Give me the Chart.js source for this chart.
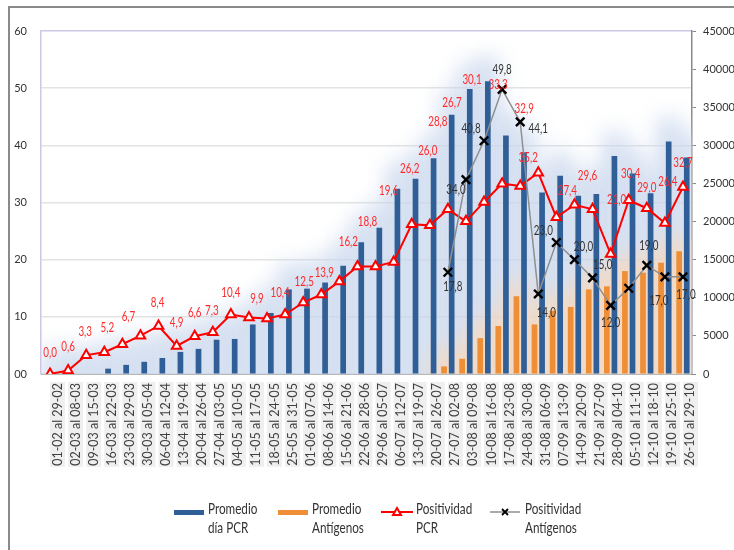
<!DOCTYPE html>
<html>
<head>
<meta charset="utf-8">
<script src="https://cdn.jsdelivr.net/npm/chart.js@4.4.1/dist/chart.umd.min.js"></script>
<style>
  html, body { margin: 0; padding: 0; background: #fff; }
  #wrap { position: relative; width: 734px; height: 550px; }
</style>
</head>
<body>
<div id="wrap"><canvas id="myChart" width="734" height="550"></canvas></div>
<script>
const weeks = [
  "01-02 al 29-02", "02-03 al 08-03", "09-03 al 15-03", "16-03 al 22-03",
  "23-03 al 29-03", "30-03 al 05-04", "06-04 al 12-04", "13-04 al 19-04",
  "20-04 al 26-04", "27-04 al 03-05", "04-05 al 10-05", "11-05 al 17-05",
  "18-05 al 24-05", "25-05 al 31-05", "01-06 al 07-06", "08-06 al 14-06",
  "15-06 al 21-06", "22-06 al 28-06", "29-06 al 05-07", "06-07 al 12-07",
  "13-07 al 19-07", "20-07 al 26-07", "27-07 al 02-08", "03-08 al 09-08",
  "10-08 al 16-08", "17-08 al 23-08", "24-08 al 30-08", "31-08 al 06-09",
  "07-09 al 13-09", "14-09 al 20-09", "21-09 al 27-09", "28-09 al 04-10",
  "05-10 al 11-10", "12-10 al 18-10", "19-10 al 25-10", "26-10 al 29-10"
];

// promedio diario de tests (eje derecho)
const promedioPCR = [
  0, 0, 0, 700, 1200, 1600, 2100, 2900, 3300, 4500, 4600, 6500,
  8000, 11100, 11200, 12000, 14200, 17300, 19200, 24300, 25600, 28300, 34000, 37400,
  38400, 31300, 29100, 23800, 26000, 23400, 23600, 28600, 26300, 23700, 30500, 28400
];
const promedioAntigenos = [
  null, null, null, null, null, null, null, null, null, null, null, null,
  null, null, null, null, null, null, null, null, null, null, 1000, 2000,
  4700, 6300, 10200, 6500, 8300, 8800, 11100, 11500, 13500, 13300, 14600, 16100
];

// positividad % (eje izquierdo)
const positividadPCR = [
  0.0, 0.6, 3.3, 3.8, 5.2, 6.7, 8.4, 4.9, 6.6, 7.3, 10.4, 9.9,
  9.7, 10.4, 12.5, 13.9, 16.2, 18.8, 18.8, 19.6, 26.2, 26.0, 28.8, 26.7,
  30.1, 33.3, 32.9, 35.2, 27.4, 29.6, 28.8, 21.0, 30.4, 29.0, 26.4, 32.7
];
const positividadAntigenos = [
  null, null, null, null, null, null, null, null, null, null, null, null,
  null, null, null, null, null, null, null, null, null, null, 17.8, 34.0,
  40.8, 49.8, 44.1, 14.0, 23.0, 20.0, 16.8, 12.0, 15.0, 19.0, 17.0, 17.0
];

const leftTicks = [0, 10, 20, 30, 40, 50, 60];
const rightTicks = [0, 5000, 10000, 15000, 20000, 25000, 30000, 35000, 40000, 45000];

const BLUE = "#2f5f96";
const ORANGE = "#ee8e37";
const RED = "#ff0000";
const GREY = "#8f8f8f";

// where each data label sits relative to its point (as moved by hand in the original)
const redNudge = [
  [0,-22],[0,-24],[-1,-24],null,[-15,-17],[-12,-19],[-1,-23],[0,-24],[0,-24],[-1,-22],[0,-22],[8,-19],
  null,[-5,-22],[1,-21],[3,-22],[9,-40],[10,-45],null,[-5,-71],[-2,-56],[-2,-75],[-10,-88],[-14,-119],
  [-12,-122],[-4,-99],[4,-77],[-10,-15],[11,-27],[13,-29],null,[6,-54],[2,-27],[0,-21],[3,-42],[0,-25]
];
const greyNudge = {
  22: [5,14], 23: [-10,10], 24: [-13,-12], 25: [0,-20], 26: [18,7], 27: [8,19],
  28: [-13,-12], 29: [9,-13], 31: [0,17], 32: [-26,-24], 33: [2,-20], 34: [-6,24], 35: [3,18]
};

function narrowText(ctx, text, x, y, color, font, sx) {
  ctx.save();
  ctx.translate(x, y);
  ctx.scale(sx, 1);
  ctx.font = font;
  ctx.fillStyle = color;
  ctx.textAlign = "left";
  ctx.textBaseline = "middle";
  ctx.fillText(text, 0, 0);
  ctx.restore();
}
function centerText(ctx, text, x, y, color, font, sx) {
  ctx.save();
  ctx.font = font;
  const w = ctx.measureText(text).width * sx;
  ctx.restore();
  narrowText(ctx, text, x - w / 2, y, color, font, sx);
}

const frame = {
  id: "frame",
  beforeDraw(chart) {
    const ctx = chart.ctx;
    ctx.save();
    ctx.strokeStyle = "#8a8a8a";
    ctx.lineWidth = 2;
    ctx.strokeRect(9, 7, 900, 700);
    ctx.restore();
  }
};

const glow = {
  id: "glow",
  beforeDatasetsDraw(chart) {
    const ctx = chart.ctx;
    const a = chart.chartArea;
    const base = chart.scales.y2.getPixelForValue(0);
    ctx.save();
    ctx.beginPath();
    ctx.rect(a.left, a.top, a.right - a.left, a.bottom - a.top);
    ctx.clip();
    [[0, "rgba(200,214,236,0.85)", 24], [1, "rgba(250,216,186,0.9)", 14]].forEach(([di, col, lift]) => {
      ctx.filter = "blur(11px)";
      ctx.fillStyle = col;
      chart.getDatasetMeta(di).data.forEach((bar, i) => {
        if (chart.data.datasets[di].data[i] == null) return;
        ctx.fillRect(bar.x - 11, bar.y - lift, 22, base - bar.y + lift + 20);
      });
    });
    ctx.restore();
  }
};

const pointLabels = {
  id: "pointLabels",
  afterDatasetsDraw(chart) {
    const ctx = chart.ctx;
    const sets = [
      { ds: 2, nudge: (i) => redNudge[i], color: "#ff2a2a" },
      { ds: 3, nudge: (i) => greyNudge[i], color: "#333333" }
    ];
    sets.forEach(s => {
      const vals = chart.data.datasets[s.ds].data;
      chart.getDatasetMeta(s.ds).data.forEach((pt, i) => {
        const n = s.nudge(i);
        if (vals[i] == null || !n) return;
        const txt = vals[i].toFixed(1).replace(".", ",");
        centerText(ctx, txt, pt.x + n[0], pt.y + n[1], s.color, "14px Lato", 0.7);
      });
    });
  }
};

const legendBox = {
  id: "legendBox",
  afterDraw(chart) {
    const ctx = chart.ctx;
    const ds = chart.data.datasets;
    const y = 512;
    const font = "15px Lato";
    const items = [
      { x: 174, lines: ["Promedio", "día PCR"] },
      { x: 278, lines: ["Promedio", "Antígenos"] },
      { x: 381, lines: ["Positividad", "PCR"] },
      { x: 490, lines: ["Positividad", "Antígenos"] }
    ];
    ctx.save();
    ctx.fillStyle = ds[0].backgroundColor;
    ctx.fillRect(items[0].x, y - 2, 30, 5);
    ctx.fillStyle = ds[1].backgroundColor;
    ctx.fillRect(items[1].x, y - 2, 30, 5);

    ctx.strokeStyle = ds[2].borderColor;
    ctx.lineWidth = 2;
    ctx.beginPath();
    ctx.moveTo(items[2].x, y); ctx.lineTo(items[2].x + 32, y);
    ctx.stroke();
    const tx = items[2].x + 16;
    ctx.fillStyle = "#fff";
    ctx.beginPath();
    ctx.moveTo(tx, y - 4); ctx.lineTo(tx + 4, y + 3); ctx.lineTo(tx - 4, y + 3); ctx.closePath();
    ctx.fill(); ctx.stroke();

    ctx.strokeStyle = ds[3].borderColor;
    ctx.lineWidth = 1.5;
    ctx.beginPath();
    ctx.moveTo(items[3].x, y); ctx.lineTo(items[3].x + 30, y);
    ctx.stroke();
    const gx = items[3].x + 15;
    ctx.strokeStyle = "#000";
    ctx.lineWidth = 1.8;
    ctx.beginPath();
    ctx.moveTo(gx - 3, y - 3); ctx.lineTo(gx + 3, y + 3);
    ctx.moveTo(gx + 3, y - 3); ctx.lineTo(gx - 3, y + 3);
    ctx.stroke();
    ctx.restore();

    items.forEach((it, k) => {
      const textX = it.x + (k < 2 ? 34 : 35);
      narrowText(ctx, it.lines[0], textX, 509, "#333", font, 0.78);
      narrowText(ctx, it.lines[1], textX, 528, "#333", font, 0.78);
    });
  }
};

const config = {
  type: "bar",
  data: {
    labels: weeks,
    datasets: [
      {
        label: "Promedio día PCR",
        data: promedioPCR,
        backgroundColor: BLUE,
        yAxisID: "y2",
        order: 4,
        categoryPercentage: 0.84,
        barPercentage: 0.75
      },
      {
        label: "Promedio Antígenos",
        data: promedioAntigenos,
        backgroundColor: ORANGE,
        yAxisID: "y2",
        order: 3,
        categoryPercentage: 0.84,
        barPercentage: 0.75
      },
      {
        type: "line",
        label: "Positividad PCR",
        data: positividadPCR,
        yAxisID: "y",
        borderColor: RED,
        backgroundColor: "#ffffff",
        borderWidth: 2,
        pointStyle: "triangle",
        pointRadius: 5.5,
        pointBorderWidth: 2,
        pointBorderColor: RED,
        pointBackgroundColor: "#ffffff",
        tension: 0,
        order: 2
      },
      {
        type: "line",
        label: "Positividad Antígenos",
        data: positividadAntigenos,
        yAxisID: "y",
        borderColor: GREY,
        backgroundColor: "#ffffff",
        borderWidth: 1.5,
        pointStyle: "crossRot",
        pointRadius: 6,
        pointBorderWidth: 2.4,
        pointBorderColor: "#000000",
        tension: 0,
        order: 1
      }
    ]
  },
  options: {
    responsive: false,
    animation: false,
    layout: { padding: { left: 9, top: 31, right: 0, bottom: 0 } },
    plugins: {
      legend: { display: false },
      tooltip: { enabled: false }
    },
    scales: {
      x: {
        grid: { display: false, drawTicks: false },
        border: { display: true, color: "#b8b8b8" },
        ticks: {
          autoSkip: false,
          minRotation: 90,
          maxRotation: 90,
          padding: 9,
          color: "#404040",
          font: { family: "Lato", size: 12.5 },
          showLabelBackdrop: true,
          backdropColor: "#efefef",
          backdropPadding: { left: 1, right: 1, top: 0, bottom: 0 }
        },
        afterFit: (s) => { s.height = 176; }
      },
      y: {
        position: "left",
        min: 0,
        max: 60,
        afterBuildTicks: (s) => { s.ticks = leftTicks.map(v => ({ value: v })); },
        grid: {
          drawTicks: false,
          color: (c) => c.tick && c.tick.value === 60 ? "#cdc6e4" : "#e3e3e3",
          lineWidth: 1.5
        },
        border: { display: true, color: "#cdc6e4", width: 1.5 },
        ticks: {
          padding: 14,
          color: "#333",
          font: { family: "Lato", size: 11 },
          callback: (v) => v === 0 ? "00" : String(v)
        },
        afterFit: (s) => { s.width = 32; }
      },
      y2: {
        position: "right",
        min: 0,
        max: 45000,
        afterBuildTicks: (s) => { s.ticks = rightTicks.map(v => ({ value: v })); },
        grid: { drawOnChartArea: false, drawTicks: true, tickLength: 4, color: "#8a8a8a" },
        border: { display: true, color: "#8a8a8a", width: 1.5 },
        ticks: {
          padding: 7,
          color: "#333",
          font: { family: "Lato", size: 11 },
          callback: (v) => String(v)
        },
        afterFit: (s) => { s.width = 42; }
      }
    }
  },
  plugins: [frame, glow, pointLabels, legendBox]
};

const myChart = new Chart(document.getElementById("myChart"), config);
</script>
</body>
</html>
